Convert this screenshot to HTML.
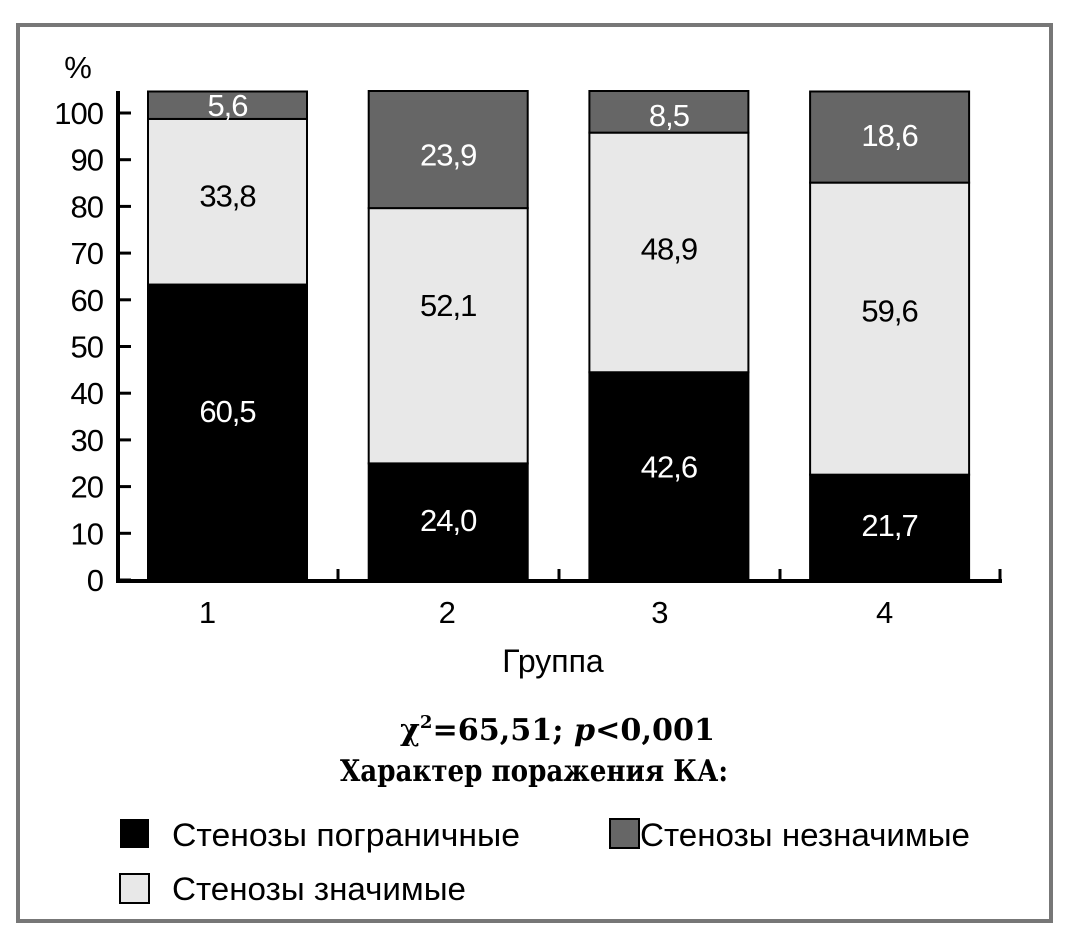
<!DOCTYPE html>
<html><head><meta charset="utf-8"><style>
body{margin:0;background:#fff;}
svg{display:block;font-family:"Liberation Sans","DejaVu Sans",sans-serif;}
</style></head><body>
<svg width="1066" height="938" viewBox="0 0 1066 938">
<rect x="18" y="25" width="1033" height="896" fill="#fff" stroke="#777" stroke-width="4"/>
<g id="bars"></g>
<g id="axes"></g>
<text x="78" y="78" font-size="31" text-anchor="middle">%</text>
<text x="553" y="672" font-size="32" text-anchor="middle">Группа</text>
<text x="400" y="740" font-size="30" font-weight="bold" font-family="DejaVu Serif,serif" textLength="315" lengthAdjust="spacingAndGlyphs">χ<tspan font-size="18" dy="-12">2</tspan><tspan dy="12">=65,51; </tspan><tspan font-style="italic">p</tspan>&lt;0,001</text>
<text x="340" y="781" font-size="30" font-weight="bold" font-family="DejaVu Serif,serif" textLength="388" lengthAdjust="spacingAndGlyphs">Характер поражения КА:</text>
<g><rect x="120" y="819" width="29" height="29" fill="#000"/><text x="172" y="846" font-size="32" textLength="348" lengthAdjust="spacingAndGlyphs">Стенозы пограничные</text></g>
<g><rect x="610" y="819" width="29" height="29" fill="#666" stroke="#000" stroke-width="2"/><text x="640" y="846" font-size="32" textLength="330" lengthAdjust="spacingAndGlyphs">Стенозы незначимые</text></g>
<g><rect x="120" y="874" width="29" height="29" fill="#e8e8e8" stroke="#000" stroke-width="2"/><text x="172" y="900" font-size="32" textLength="294" lengthAdjust="spacingAndGlyphs">Стенозы значимые</text></g>
<script>
const categories=["1","2","3","4"];
const borderline=[60.5,24.0,42.6,21.7];
const significant=[33.8,52.1,48.9,59.6];
const insignificant=[5.6,23.9,8.5,18.6];
const yTicks=[0,10,20,30,40,50,60,70,80,90,100];
const NS="http://www.w3.org/2000/svg";
const bars=document.getElementById('bars'),axes=document.getElementById('axes');
function yAxis(v){return 580-v*4.67;}
function yBar(v){return 581-v*4.9;}
function xBand(i){return 148+i*220.7;}
const bw=159;
const labelShift=[[-22,-6,0],[-2,-31,5],[-10,-4,3],[-3,-18,-2]];
const xLabelShift=[-20,-1,-9,-5];
function mk(tag,attrs,parent){const e=document.createElementNS(NS,tag);for(const k in attrs)e.setAttribute(k,attrs[k]);parent.appendChild(e);return e;}
const series=[[borderline,"#000","#fff","borderline"],[significant,"#e8e8e8","#000","significant"],[insignificant,"#666","#fff","insignificant"]];
categories.forEach((c,i)=>{
  let base=0;
  series.forEach(([arr,fill,tc,nm],s)=>{
    const v=arr[i];const y0=yBar(base),y1=yBar(base+v);
    const r=mk('rect',{x:xBand(i),y:y1,width:bw,height:y0-y1,fill:fill,stroke:'#000','stroke-width':2},bars);
    
    
    const t=mk('text',{x:xBand(i)+bw/2,y:(y0+y1)/2+11+labelShift[i][s],'font-size':31,'text-anchor':'middle',fill:tc,'letter-spacing':'-1'},bars);
    t.textContent=v.toFixed(1).replace('.',',');
    
    
    base+=v;
  });
  const xl=mk('text',{x:xBand(i)+bw/2+xLabelShift[i],y:623,'font-size':31,'text-anchor':'middle'},axes);
  xl.textContent=c;
  
  
});
mk('line',{x1:118,y1:91,x2:118,y2:582,stroke:'#000','stroke-width':4},axes);
mk('line',{x1:116,y1:581,x2:1002,y2:581,stroke:'#000','stroke-width':4},axes);
[338,559,780,1000].forEach(x=>mk('line',{x1:x,y1:581,x2:x,y2:569,stroke:'#000','stroke-width':3},axes));
yTicks.forEach(v=>{
  const y=yAxis(v);
  mk('line',{x1:118,y1:y,x2:131,y2:y,stroke:'#000','stroke-width':3},axes);
  const t=mk('text',{x:103,y:y+11,'font-size':31,'text-anchor':'end','letter-spacing':'-1'},axes);
  t.textContent=v;
  
  
});
</script>
</svg>
</body></html>
